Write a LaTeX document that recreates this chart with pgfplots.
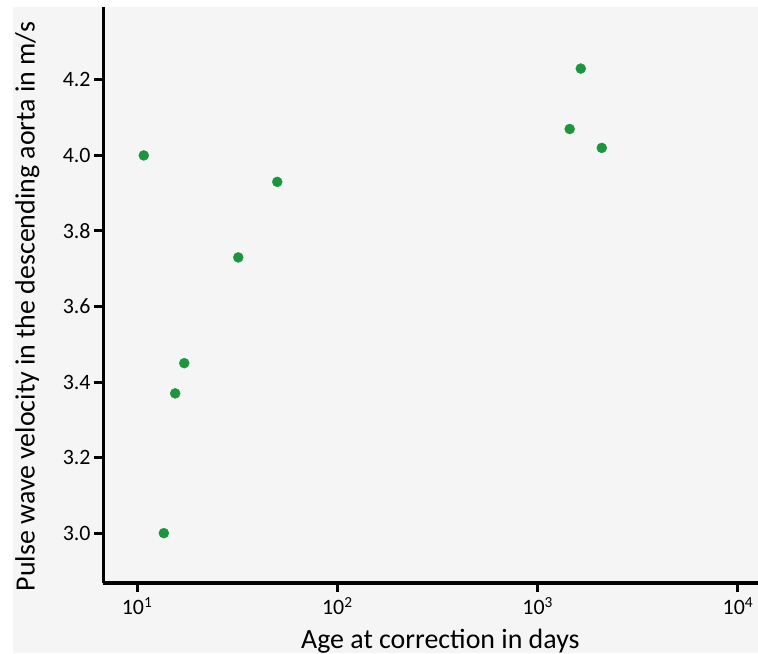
\documentclass[border=0pt]{standalone}
\usepackage{pgfplots}
\pgfplotsset{compat=1.18}
\usepackage{fontspec}
\setmainfont{Carlito}
\definecolor{dotgreen}{RGB}{28,150,62}
\definecolor{panel}{RGB}{245,245,245}
\begin{document}
\begin{tikzpicture}
\fill[white] (0,0) rectangle (758bp,654bp);
\fill[panel] (13bp,1bp) rectangle (758bp,647bp);
\begin{axis}[%
at={(103bp,71bp)},
anchor=south west,
width=655bp,
height=576bp,
scale only axis,
xmode=log,
xmin=6.76,
xmax=12589,
ymin=2.868,
ymax=4.393,
axis x line*=bottom,
axis y line*=left,
x axis line style={line width=3bp},
y axis line style={line width=3bp},
xtick={10,100,1000,10000},
xticklabels={10\textsuperscript{1},10\textsuperscript{2},10\textsuperscript{3},10\textsuperscript{4}},
xminorticks=false,
ytick={3.0,3.2,3.4,3.6,3.8,4.0,4.2},
yticklabel style={/pgf/number format/fixed,/pgf/number format/fixed zerofill,/pgf/number format/precision=1},
/pgf/number format/assume math mode=true,
major tick style={line width=3bp,black},
major tick length=9bp,
tick align=outside,
ticklabel style={font=\fontsize{22}{26}\selectfont},
xticklabel style={yshift=-2bp},
xlabel={Age at correction in days},
ylabel={Pulse wave velocity in the descending aorta in m/s},
label style={font=\fontsize{28}{32}\selectfont},
xlabel style={at={(axis description cs:0.515,0)},anchor=north,yshift=-43bp},
ylabel style={at={(axis description cs:0,0.48)},anchor=south,yshift=60bp},
clip=false
]
\addplot[only marks, mark=*, mark size=5bp, color=dotgreen, mark options={draw=none,fill=dotgreen}] table[row sep=crcr] {%
10.8	4.00\\
13.6	3.00\\
15.5	3.37\\
17.2	3.45\\
32.0	3.73\\
50.1	3.93\\
1445	4.07\\
1641	4.23\\
2089	4.02\\
};
\end{axis}
\pgfresetboundingbox
\useasboundingbox (0,0) rectangle (758bp,654bp);
\end{tikzpicture}
\end{document}
